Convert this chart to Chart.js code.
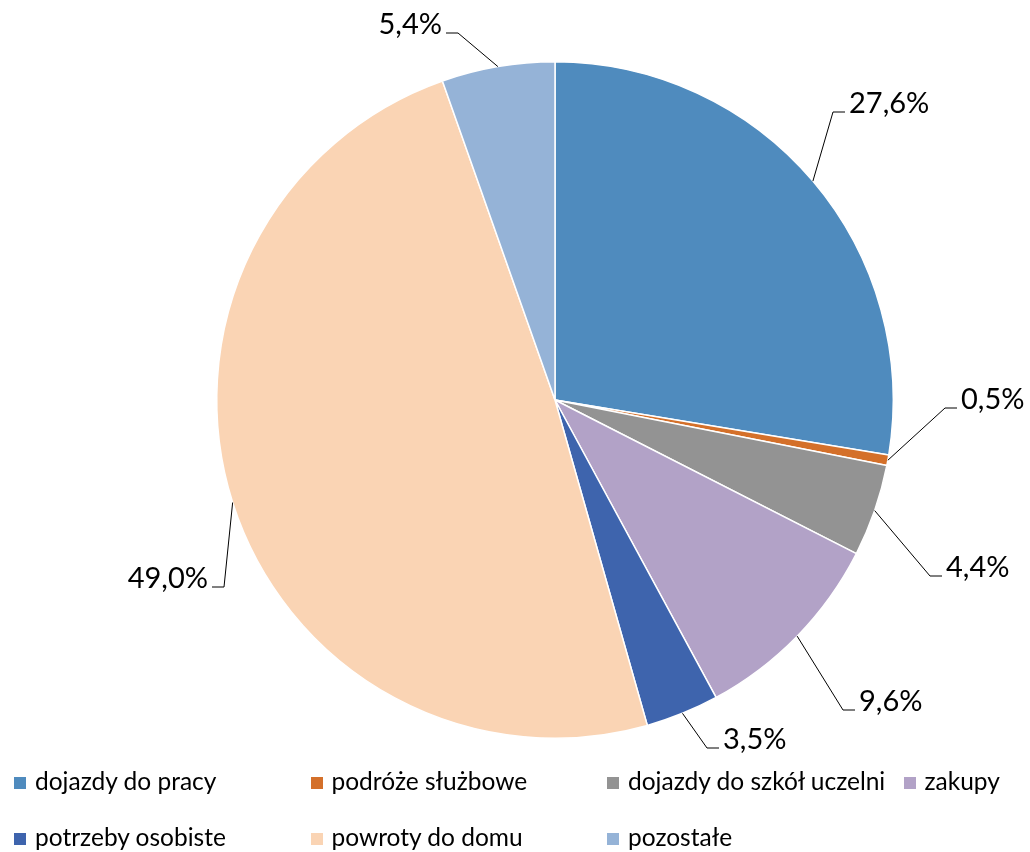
<!DOCTYPE html>
<html>
<head>
<meta charset="utf-8">
<script src="https://cdn.jsdelivr.net/npm/chart.js@4.4.0/dist/chart.umd.min.js"></script>
<style>
  body { margin: 0; background: #fff; }
  #wrap { position: relative; width: 1030px; height: 852px; }
  #legend { position: absolute; left: 0; top: 0; width: 1030px; height: 852px; pointer-events: none;
            font-family: Lato, "Open Sans", sans-serif; font-size: 24.5px; color: #000; }
  .item { position: absolute; white-space: nowrap; line-height: 28px; }
  .box { display: inline-block; width: 12px; height: 12px; margin-right: 9px; vertical-align: 1px; }
</style>
</head>
<body>
<div id="wrap">
  <canvas id="chart" width="1030" height="852"></canvas>
  <div id="legend"></div>
</div>
<script>
// Purposes of trips, share in %
const categories = ["dojazdy do pracy", "podróże służbowe", "dojazdy do szkół uczelni", "zakupy",
                    "potrzeby osobiste", "powroty do domu", "pozostałe"];
const shares = [27.6, 0.5, 4.4, 9.6, 3.5, 49.0, 5.4];
const colors = ["#4F8BBE", "#D4702A", "#939393", "#B2A2C7", "#3E64AD", "#FAD4B4", "#95B3D7"];

// where each leader line bends, and which side its label sits on
const labelElbows = [
    [833, 112, "right"], [945, 408, "right"], [930, 576, "right"], [843, 710, "right"],
    [707, 748, "right"], [224, 587, "left"], [458, 33, "left"]
];

const fmt = v => v.toFixed(1).replace(".", ",") + "%";

const leaderLabels = {
    id: "leaderLabels",
    afterDatasetsDraw(chart) {
        const ctx = chart.ctx;
        const arcs = chart.getDatasetMeta(0).data;
        ctx.save();
        ctx.strokeStyle = "#000";
        ctx.lineWidth = 1;
        ctx.fillStyle = "#000";
        ctx.font = "29px Lato, 'Open Sans', sans-serif";
        ctx.textBaseline = "alphabetic";
        arcs.forEach((arc, i) => {
            const mid = (arc.startAngle + arc.endAngle) / 2;
            const ax = arc.x + Math.cos(mid) * arc.outerRadius;
            const ay = arc.y + Math.sin(mid) * arc.outerRadius;
            const [ex, ey, side] = labelElbows[i];
            const dir = side === "right" ? 1 : -1;
            ctx.beginPath();
            ctx.moveTo(ax, ay);
            ctx.lineTo(ex, ey);
            ctx.lineTo(ex + dir * 12, ey);
            ctx.stroke();
            ctx.textAlign = side === "right" ? "left" : "right";
            ctx.fillText(fmt(shares[i]), ex + dir * 16, ey + 1);
        });
        ctx.restore();
    }
};

const chart = new Chart(document.getElementById("chart"), {
    type: "pie",
    data: {
        labels: categories,
        datasets: [{
            data: shares,
            backgroundColor: colors,
            borderColor: "#fff",
            borderWidth: 1.5
        }]
    },
    options: {
        responsive: false,
        animation: false,
        layout: { padding: { top: 61, bottom: 113, left: 216, right: 136 } },
        plugins: {
            legend: { display: false },
            tooltip: { enabled: false }
        }
    },
    plugins: [leaderLabels]
});

// legend in two rows of four fixed-width columns
const legend = document.getElementById("legend");
categories.forEach((name, i) => {
    const el = document.createElement("div");
    el.className = "item";
    el.style.left = (14 + (i % 4) * 296.5) + "px";
    el.style.top = (i < 4 ? 767 : 823) + "px";
    el.innerHTML = '<span class="box" style="background:' + colors[i] + '"></span>' + name;
    legend.appendChild(el);
});
</script>
</body>
</html>
